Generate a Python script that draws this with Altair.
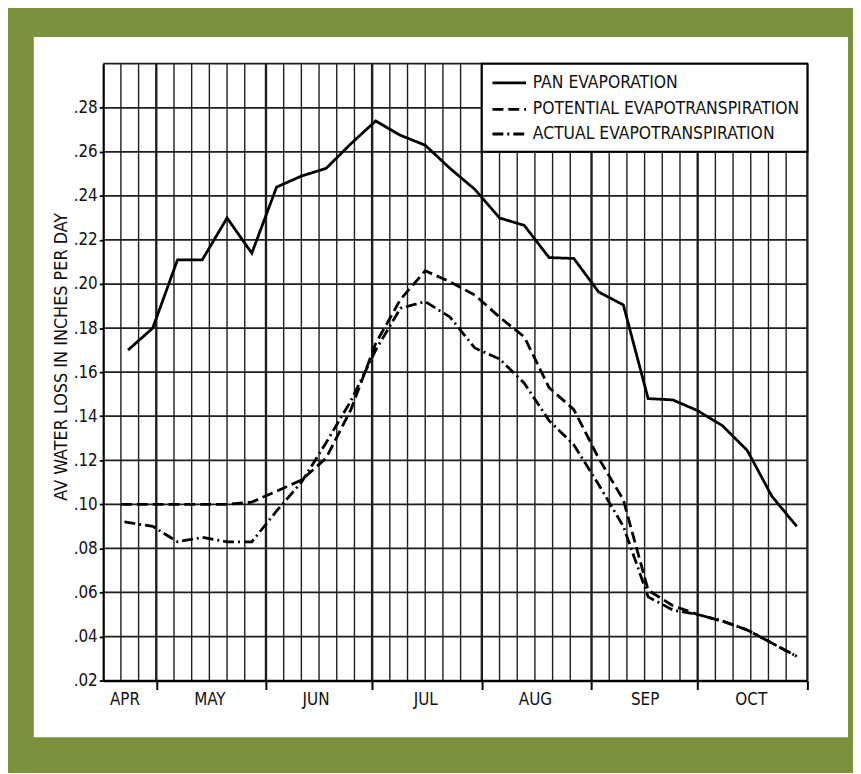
import altair as alt
import pandas as pd

YEAR = "2001"
ORIGIN = pd.Timestamp(f"{YEAR}-04-16")


def day(md):
    return (pd.Timestamp(f"{YEAR}-{md}") - ORIGIN).days


series_names = ["PAN EVAPORATION", "POTENTIAL EVAPOTRANSPIRATION", "ACTUAL EVAPOTRANSPIRATION"]

week_dates = ["04-30", "05-07", "05-14", "05-21", "05-28", "06-04", "06-11", "06-18",
              "06-25", "07-02", "07-09", "07-16", "07-23", "07-30", "08-06", "08-13",
              "08-20", "08-27", "09-03", "09-10", "09-17", "09-24", "10-01", "10-08",
              "10-15", "10-22", "10-29"]

pan_dates = ["04-23"] + week_dates
pan_values = [0.170, 0.180, 0.211, 0.211, 0.230, 0.214, 0.244, 0.249, 0.2525, 0.2637,
              0.274, 0.2675, 0.263, 0.2525, 0.243, 0.230, 0.2266, 0.212, 0.2116, 0.1964,
              0.1905, 0.148, 0.1474, 0.1425, 0.1357, 0.1245, 0.1036, 0.090]

pet_dates = ["04-21"] + week_dates
pet_values = [0.100, 0.100, 0.100, 0.100, 0.100, 0.101, 0.106, 0.111, 0.121, 0.143,
              0.173, 0.193, 0.206, 0.201, 0.195, 0.185, 0.176, 0.153, 0.143, 0.121,
              0.102, 0.061, 0.054, 0.050, 0.047, 0.043, 0.037, 0.031]

aet_dates = ["04-22"] + week_dates
aet_values = [0.092, 0.090, 0.083, 0.085, 0.083, 0.083, 0.097, 0.110, 0.128, 0.147,
              0.170, 0.189, 0.192, 0.185, 0.171, 0.166, 0.155, 0.138, 0.127, 0.109,
              0.090, 0.058, 0.052, 0.050, 0.047, 0.043, 0.037, 0.031]

month_labels = ["APR", "MAY", "JUN", "JUL", "AUG", "SEP", "OCT"]
month_label_dates = ["04-22", "05-16", "06-15", "07-16", "08-16", "09-16", "10-16"]
month_start_dates = ["05-01", "06-01", "07-01", "08-01", "09-01", "10-01", "11-01"]
y_ticks = [0.02, 0.04, 0.06, 0.08, 0.10, 0.12, 0.14, 0.16, 0.18, 0.20, 0.22, 0.24, 0.26, 0.28]
y_grid = y_ticks + [0.30]

# ---------- tables ----------
rows = []
for name, ds, vs in zip(series_names, [pan_dates, pet_dates, aet_dates],
                        [pan_values, pet_values, aet_values]):
    for d, v in zip(ds, vs):
        rows.append({"series": name, "x": day(d), "v": v})
df = pd.DataFrame(rows)

grid_days = [day("04-21"), day("04-26")]
for m in ["05", "06", "07", "08", "09", "10"]:
    for dd in [1, 6, 11, 16, 21, 26]:
        grid_days.append(day(f"{m}-{dd:02d}"))
grid_days.append(day("11-01"))
boundary_days = [day(d) for d in month_start_dates]
vgrid = pd.DataFrame({"x": grid_days,
                      "w": [2.4 if g in boundary_days else 1.4 for g in grid_days]})
hgrid = pd.DataFrame({"v": y_grid})

label_days = [day(d) for d in month_label_dates]
label_expr = " : ".join(f"datum.value == {d} ? '{m}'" for d, m in zip(label_days, month_labels)) + " : ''"
tick_test = "indexof([" + ",".join(str(b) for b in boundary_days) + "], datum.value) >= 0"

FONT = "Liberation Sans Narrow, DejaVu Sans Condensed, Arial Narrow, sans-serif"
W, H = 710, 622
YTITLE = "AV WATER LOSS IN INCHES PER DAY"
xs = alt.Scale(domain=[0, day("11-01")], nice=False, zero=False)
ys = alt.Scale(domain=[0.02, 0.30], nice=False, zero=False)
dash_scale = alt.Scale(domain=series_names, range=[[1, 0], [11, 5], [11, 4, 2, 4]])

X_AX = alt.Axis(values=sorted(label_days + boundary_days), labelExpr=label_expr,
                labelFont=FONT, labelFontSize=17, labelColor="#111",
                labelOverlap=False, labelFlush=False, labelBound=False,
                tickSize=9, tickWidth=2, tickColor="black",
                tickOpacity={"condition": {"test": tick_test, "value": 1}, "value": 0},
                labelPadding=2, domainColor="black", domainWidth=2.2,
                grid=False, zindex=1)
Y_AX = alt.Axis(values=y_ticks,
                labelExpr="replace(format(datum.value, '.2f'), '0.', '.')",
                labelFont=FONT, labelFontSize=17, labelColor="#111",
                tickSize=4, tickWidth=1.8, tickColor="black", labelPadding=2,
                domainColor="black", domainWidth=2.2, grid=False,
                titleFont=FONT, titleFontSize=18, titleFontWeight="normal",
                titleColor="#111", titleX=-42, titleY=295,
                titleBaseline="middle", titleAlign="center", zindex=1)


def X(field):
    return alt.X(field, scale=xs, title=None, axis=X_AX)


def Y(field):
    return alt.Y(field, scale=ys, title=YTITLE, axis=Y_AX)


panel = alt.Chart(pd.DataFrame({"a": [0]})).mark_rect(fill="white").encode(
    x=alt.value(-70), x2=alt.value(W + 41), y=alt.value(-27), y2=alt.value(H + 57))

vlines = alt.Chart(vgrid).mark_rule(color="#1e1e1e").encode(
    x=X("x:Q"),
    strokeWidth=alt.StrokeWidth("w:Q", scale=None))

hlines = alt.Chart(hgrid).mark_rule(color="#1e1e1e", strokeWidth=1.8).encode(
    y=Y("v:Q"))

lines = alt.Chart(df).mark_line(color="black", strokeWidth=2.8).encode(
    x=X("x:Q"),
    y=Y("v:Q"),
    strokeDash=alt.StrokeDash("series:N", scale=dash_scale, legend=None),
    detail="series:N")

# ---------- legend drawn in the box ----------
leg_rows = [0.2913, 0.2793, 0.2681]
leg = pd.DataFrame({"series": series_names, "y": leg_rows,
                    "x1": [110] * 3, "x2": [119.5] * 3, "xt": [121.4] * 3})
box = alt.Chart(pd.DataFrame({"x": [day("08-01")], "x2": [day("11-01")],
                              "y": [0.26], "y2": [0.30]})).mark_rect(
    fill="white", stroke="black", strokeWidth=2).encode(
    x=X("x:Q"), x2="x2:Q",
    y=Y("y:Q"), y2="y2:Q")
leg_lines = alt.Chart(leg).mark_rule(color="black", strokeWidth=2.8).encode(
    x=X("x1:Q"), x2="x2:Q",
    y=Y("y:Q"),
    strokeDash=alt.StrokeDash("series:N", scale=dash_scale, legend=None))
leg_text = alt.Chart(leg).mark_text(align="left", baseline="middle", font=FONT,
                                    fontSize=17.5, color="#111").encode(
    x=X("xt:Q"),
    y=Y("y:Q"),
    text="series:N")

chart = alt.layer(panel, vlines, hlines, lines, box, leg_lines, leg_text).properties(
    width=W, height=H,
    autosize=alt.AutoSizeParams(type="none"),
    padding={"left": 96, "top": 53, "right": 46, "bottom": 90},
    background="#7a923c",
).configure_view(stroke=None)

chart.save("out.html", embed_options={"renderer": "svg", "actions": False})
